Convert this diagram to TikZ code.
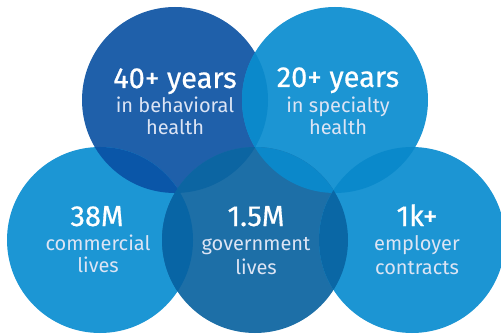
\documentclass[tikz,border=0pt]{standalone}
\usepackage{fontspec}
\setmainfont{Fira Sans}
\newfontfamily\medfont{Fira Sans}[FakeBold=0.6]
\definecolor{cTL}{HTML}{1F60AA}
\definecolor{cTR}{HTML}{1C95D3}
\definecolor{cBL}{HTML}{1C96D4}
\definecolor{cBC}{HTML}{1D6FA7}
\definecolor{cBR}{HTML}{1C95D3}
\definecolor{cTLTR}{HTML}{0B89CB}
\definecolor{cTRBC}{HTML}{0B88CA}
\definecolor{cTRBR}{HTML}{0A89CB}
\definecolor{cTLBL}{HTML}{0A56A8}
\definecolor{cTLBC}{HTML}{0C65A2}
\definecolor{cBLBC}{HTML}{0865A5}
\definecolor{cBCBR}{HTML}{0A67A5}
\definecolor{subtext}{HTML}{DCE4F4}
\tikzset{
  big/.style={anchor=base, text=white, font=\medfont\fontsize{29}{29}\selectfont, inner sep=0pt},
  small/.style={anchor=base, text=subtext, font=\fontsize{20}{20}\selectfont, inner sep=0pt},
}
\newcommand{\Rad}{93pt}
\newcommand{\lens}[3]{\begin{scope}\clip (#1) circle[radius=\Rad];\fill[#3] (#2) circle[radius=\Rad];\end{scope}}
\begin{document}
\begin{tikzpicture}[x=1pt,y=-1pt]
\useasboundingbox (0,0) rectangle (501,334);
\clip (0,0) rectangle (501,334);
\coordinate (TL) at (175,100);
\coordinate (TR) at (335,100);
\coordinate (BL) at (100,240);
\coordinate (BC) at (255,240);
\coordinate (BR) at (412,240);
\fill[cTL] (TL) circle[radius=\Rad];
\fill[cTR] (TR) circle[radius=\Rad];
\fill[cBL] (BL) circle[radius=\Rad];
\fill[cBC] (BC) circle[radius=\Rad];
\fill[cBR] (BR) circle[radius=\Rad];
\lens{TL}{TR}{cTLTR}
\lens{TR}{BC}{cTRBC}
\lens{TR}{BR}{cTRBR}
\lens{TL}{BL}{cTLBL}
\lens{TL}{BC}{cTLBC}
\lens{BL}{BC}{cBLBC}
\lens{BC}{BR}{cBCBR}
\node[big] (a1) at (175,88) {40+ years};
\node[small] (a2) at (175,113) {in behavioral};
\node[small] (a3) at (175,135) {health};
\node[big] (b1) at (338,87) {20+ years};
\node[small] (b2) at (338,113) {in specialty};
\node[small] (b3) at (338,135) {health};
\node[big] (c1) at (97,226) {38M};
\node[small] (c2) at (98,251) {commercial};
\node[small] (c3) at (98,272) {lives};
\node[big] (d1) at (256,226) {1.5M};
\node[small] (d2) at (256,251) {government};
\node[small] (d3) at (256,274) {lives};
\node[big] (e1) at (417,226) {1k+};
\node[small] (e2) at (417,251) {employer};
\node[small] (e3) at (417,274) {contracts};
\end{tikzpicture}
\end{document}
